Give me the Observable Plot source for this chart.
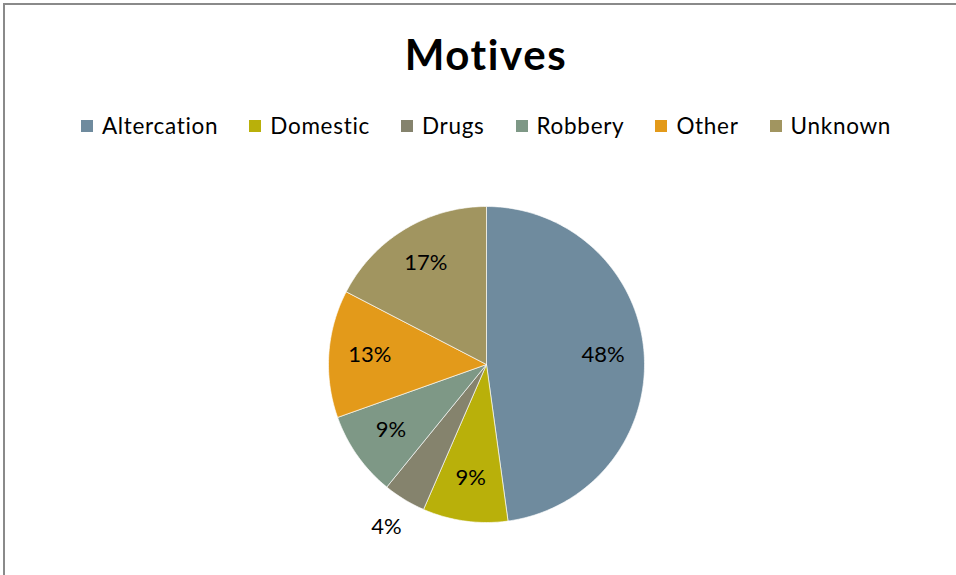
<!DOCTYPE html>
<html>
<head>
<meta charset="utf-8">
<script src="https://cdn.jsdelivr.net/npm/d3@7"></script>
<script src="https://cdn.jsdelivr.net/npm/@observablehq/plot@0.6"></script>
<style>
  html, body { margin: 0; padding: 0; background: #fff; overflow: hidden; }
  body { width: 956px; height: 575px; position: relative; font-family: Lato, "Open Sans", sans-serif; font-variant-ligatures: none; }
  #frame { position: absolute; left: 3px; top: 3px; width: 990px; height: 600px; border-left: 2px solid #8a8a8a; border-top: 2px solid #8a8a8a; }
  #title { position: absolute; left: 0; width: 972px; top: 33px; text-align: center; font-weight: 700; font-size: 42px; letter-spacing: 1.6px; color: #000; line-height: 1; }
  #legend { position: absolute; left: 0; width: 972px; top: 113px; display: flex; justify-content: center; gap: 31px; font-size: 22.5px; letter-spacing: 0.7px; color: #000; line-height: 26px; }
  #legend .item { display: flex; align-items: center; }
  #legend .sw { width: 12px; height: 12px; margin-right: 9px; }
  #chart { position: absolute; left: 0; top: 0; }
  #chart text { font-variant-ligatures: none; }
</style>
</head>
<body>
<div id="frame"></div>
<div id="chart"></div>
<div id="title">Motives</div>
<div id="legend"></div>
<script>
const motives = ["Altercation", "Domestic", "Drugs", "Robbery", "Other", "Unknown"];
const counts = [11, 2, 1, 2, 3, 4];
const colors = ["#6f8b9e", "#b9b00a", "#85836d", "#7e9886", "#e39a1a", "#a19560"];

const data = motives.map((m, i) => ({motive: m, count: counts[i]}));
const total = d3.sum(counts);
const arcs = d3.pie().sort(null).value(d => d.count)(data);

// polygon points for each slice (angle 0 = 12 o'clock, clockwise)
const rows = [];
for (const a of arcs) {
  const m = a.data.motive;
  rows.push({motive: m, x: 0, y: 0});
  const n = Math.max(2, Math.ceil((a.endAngle - a.startAngle) / (Math.PI / 180)));
  for (let k = 0; k <= n; k++) {
    const t = a.startAngle + (a.endAngle - a.startAngle) * k / n;
    rows.push({motive: m, x: Math.sin(t), y: Math.cos(t)});
  }
  rows.push({motive: m, x: 0, y: 0});
}

const labels = arcs.map(a => {
  const mid = (a.startAngle + a.endAngle) / 2;
  const share = a.data.count / total;
  const r = share < 0.05 ? 1.22 : 0.74;
  return {label: Math.round(share * 100) + "%", x: r * Math.sin(mid), y: r * Math.cos(mid)};
});

const plot = Plot.plot({
  width: 956,
  height: 575,
  margin: 0,
  x: {domain: [-1, 1], range: [328, 644], axis: null},
  y: {domain: [-1, 1], range: [522, 206], axis: null},
  color: {domain: motives, range: colors},
  style: {background: "transparent", fontFamily: "Lato, sans-serif"},
  marks: [
    Plot.line(rows, {x: "x", y: "y", z: "motive", fill: "motive", stroke: "#ffffff", strokeWidth: 0.8, strokeOpacity: 0.8, curve: "linear"}),
    Plot.text(labels, {x: "x", y: "y", text: "label", fill: "#000", fontSize: 22, dy: -2})
  ]
});
document.getElementById("chart").appendChild(plot);

const legend = document.getElementById("legend");
motives.forEach((m, i) => {
  const item = document.createElement("div");
  item.className = "item";
  const sw = document.createElement("span");
  sw.className = "sw";
  sw.style.background = colors[i];
  const tx = document.createElement("span");
  tx.textContent = m;
  item.appendChild(sw);
  item.appendChild(tx);
  legend.appendChild(item);
});
</script>
</body>
</html>
